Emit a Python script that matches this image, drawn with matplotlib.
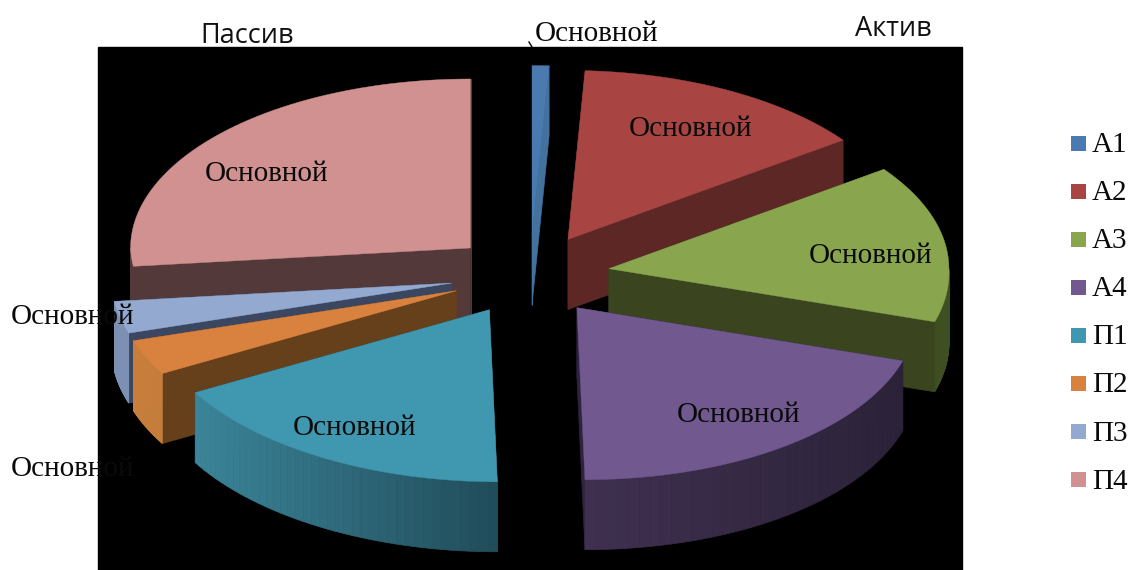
"""Exploded 3-D style pie of balance sheet groups, drawn with plain polygons."""
import numpy as np
import matplotlib

matplotlib.use("Agg")
import matplotlib.pyplot as plt
from matplotlib.patches import Rectangle

CATEGORIES = ["А1", "А2", "А3", "А4", "П1", "П2", "П3", "П4"]
SHARES = [0.8, 14.2, 15, 20, 17, 3.3, 3, 26.7]
SLICE_LABEL = "Основной"
TITLE_PASSIVE = "Пассив"
TITLE_ACTIVE = "Актив"

TOP_COLORS = ["#4a7ab0", "#a84543", "#89a54e", "#71588f", "#4098b0", "#d98240", "#93a9d0", "#d09190"]
EDGE_COLORS = ["#44729f", "#5c2725", "#3a441f", "#2f2440", "#22505e", "#663f1b", "#3b4760", "#54393b"]
WALL_LEFT = ["#3f6c9f", "#5c2725", "#3f4f22", "#3f3050", "#3b8499", "#c87f3d", "#7c90b4", "#54393b"]
WALL_RIGHT = ["#3f6c9f", "#5c2725", "#3f4f22", "#2b2238", "#214c5a", "#c87f3d", "#7c90b4", "#54393b"]

# projection of the pie, in figure pixels
CX, CY = 530, 275
RX, RY = 340, 172
EXPLODE = 0.235
DEPTH = 70
# the source picture is slightly sheared: rim moves right at the front, down at the back
FRONT_SHIFT = 8
BACK_DROP = 3
# back to front
DRAW_ORDER = [7, 1, 0, 2, 6, 5, 3, 4]


def project(t, cx, cy):
    x = cx + RX * np.sin(t) + FRONT_SHIFT * np.maximum(0, -np.cos(t))
    y = cy - RY * np.cos(t) + BACK_DROP * np.maximum(0, np.cos(t))
    return x, y


def draw_slice(ax, i, start, stop):
    mid = (start + stop) / 2
    cx = CX + EXPLODE * RX * np.sin(mid)
    cy = CY - EXPLODE * RY * np.cos(mid)

    # radial walls: only the lower edge of each wedge faces the viewer
    for t in (start, stop):
        x, y = project(t, cx, cy)
        ax.fill([cx, x, x, cx], [cy, y, y + DEPTH, cy + DEPTH],
                color=EDGE_COLORS[i], lw=0.5, zorder=2)

    # outer wall, front half of the rim only
    lo, hi = max(start, np.pi / 2), min(stop, 3 * np.pi / 2)
    if hi > lo:
        steps = np.linspace(lo, hi, 40)
        xs, ys = project(steps, cx, cy)
        left = np.array(matplotlib.colors.to_rgb(WALL_LEFT[i]))
        right = np.array(matplotlib.colors.to_rgb(WALL_RIGHT[i]))
        span = max(xs.max() - xs.min(), 1)
        for k in range(len(steps) - 1):
            frac = (0.5 * (xs[k] + xs[k + 1]) - xs.min()) / span
            ax.fill([xs[k], xs[k + 1], xs[k + 1], xs[k]],
                    [ys[k], ys[k + 1], ys[k + 1] + DEPTH, ys[k] + DEPTH],
                    color=left + (right - left) * frac, lw=0.5, zorder=2)

    # flat top
    arc = np.linspace(start, stop, 80)
    xs, ys = project(arc, cx, cy)
    ax.fill(np.r_[cx, xs], np.r_[cy, ys], color=TOP_COLORS[i], lw=0.3, zorder=2)


fig = plt.figure(figsize=(11.3, 5.7), dpi=100)
ax = fig.add_axes([0, 0, 1, 1])
ax.set_xlim(0, 1130)
ax.set_ylim(570, 0)
ax.axis("off")

ax.add_patch(Rectangle((98, 47), 864, 523, color="black", zorder=1))

edges = np.radians(np.r_[0, np.cumsum(SHARES)] / np.sum(SHARES) * 360)
for i in DRAW_ORDER:
    draw_slice(ax, i, edges[i], edges[i + 1])

serif = {"family": "Liberation Serif", "color": "#0a0a0a", "zorder": 5}
for x, y in [(596, 34), (691, 129), (870, 256), (738, 415), (355, 428), (267, 174), (73, 317), (73, 469)]:
    ax.text(x, y, SLICE_LABEL, fontsize=21, ha="center", va="center", **serif)
ax.plot([529, 532], [42, 47], color="black", lw=1, zorder=5)

ax.text(247, 36, TITLE_PASSIVE, fontsize=19.5, family="Open Sans", ha="center", va="center", color="#111111")
ax.text(893, 29, TITLE_ACTIVE, fontsize=19.5, family="Open Sans", ha="center", va="center", color="#111111")

for k, name in enumerate(CATEGORIES):
    y = 143 + 48.1 * k
    ax.add_patch(Rectangle((1071, y - 7.5), 15, 15, color=TOP_COLORS[k], lw=0))
    ax.text(1092, y + 2, name, fontsize=21, ha="left", va="center", **serif)

fig.savefig("out.png", dpi=100)
